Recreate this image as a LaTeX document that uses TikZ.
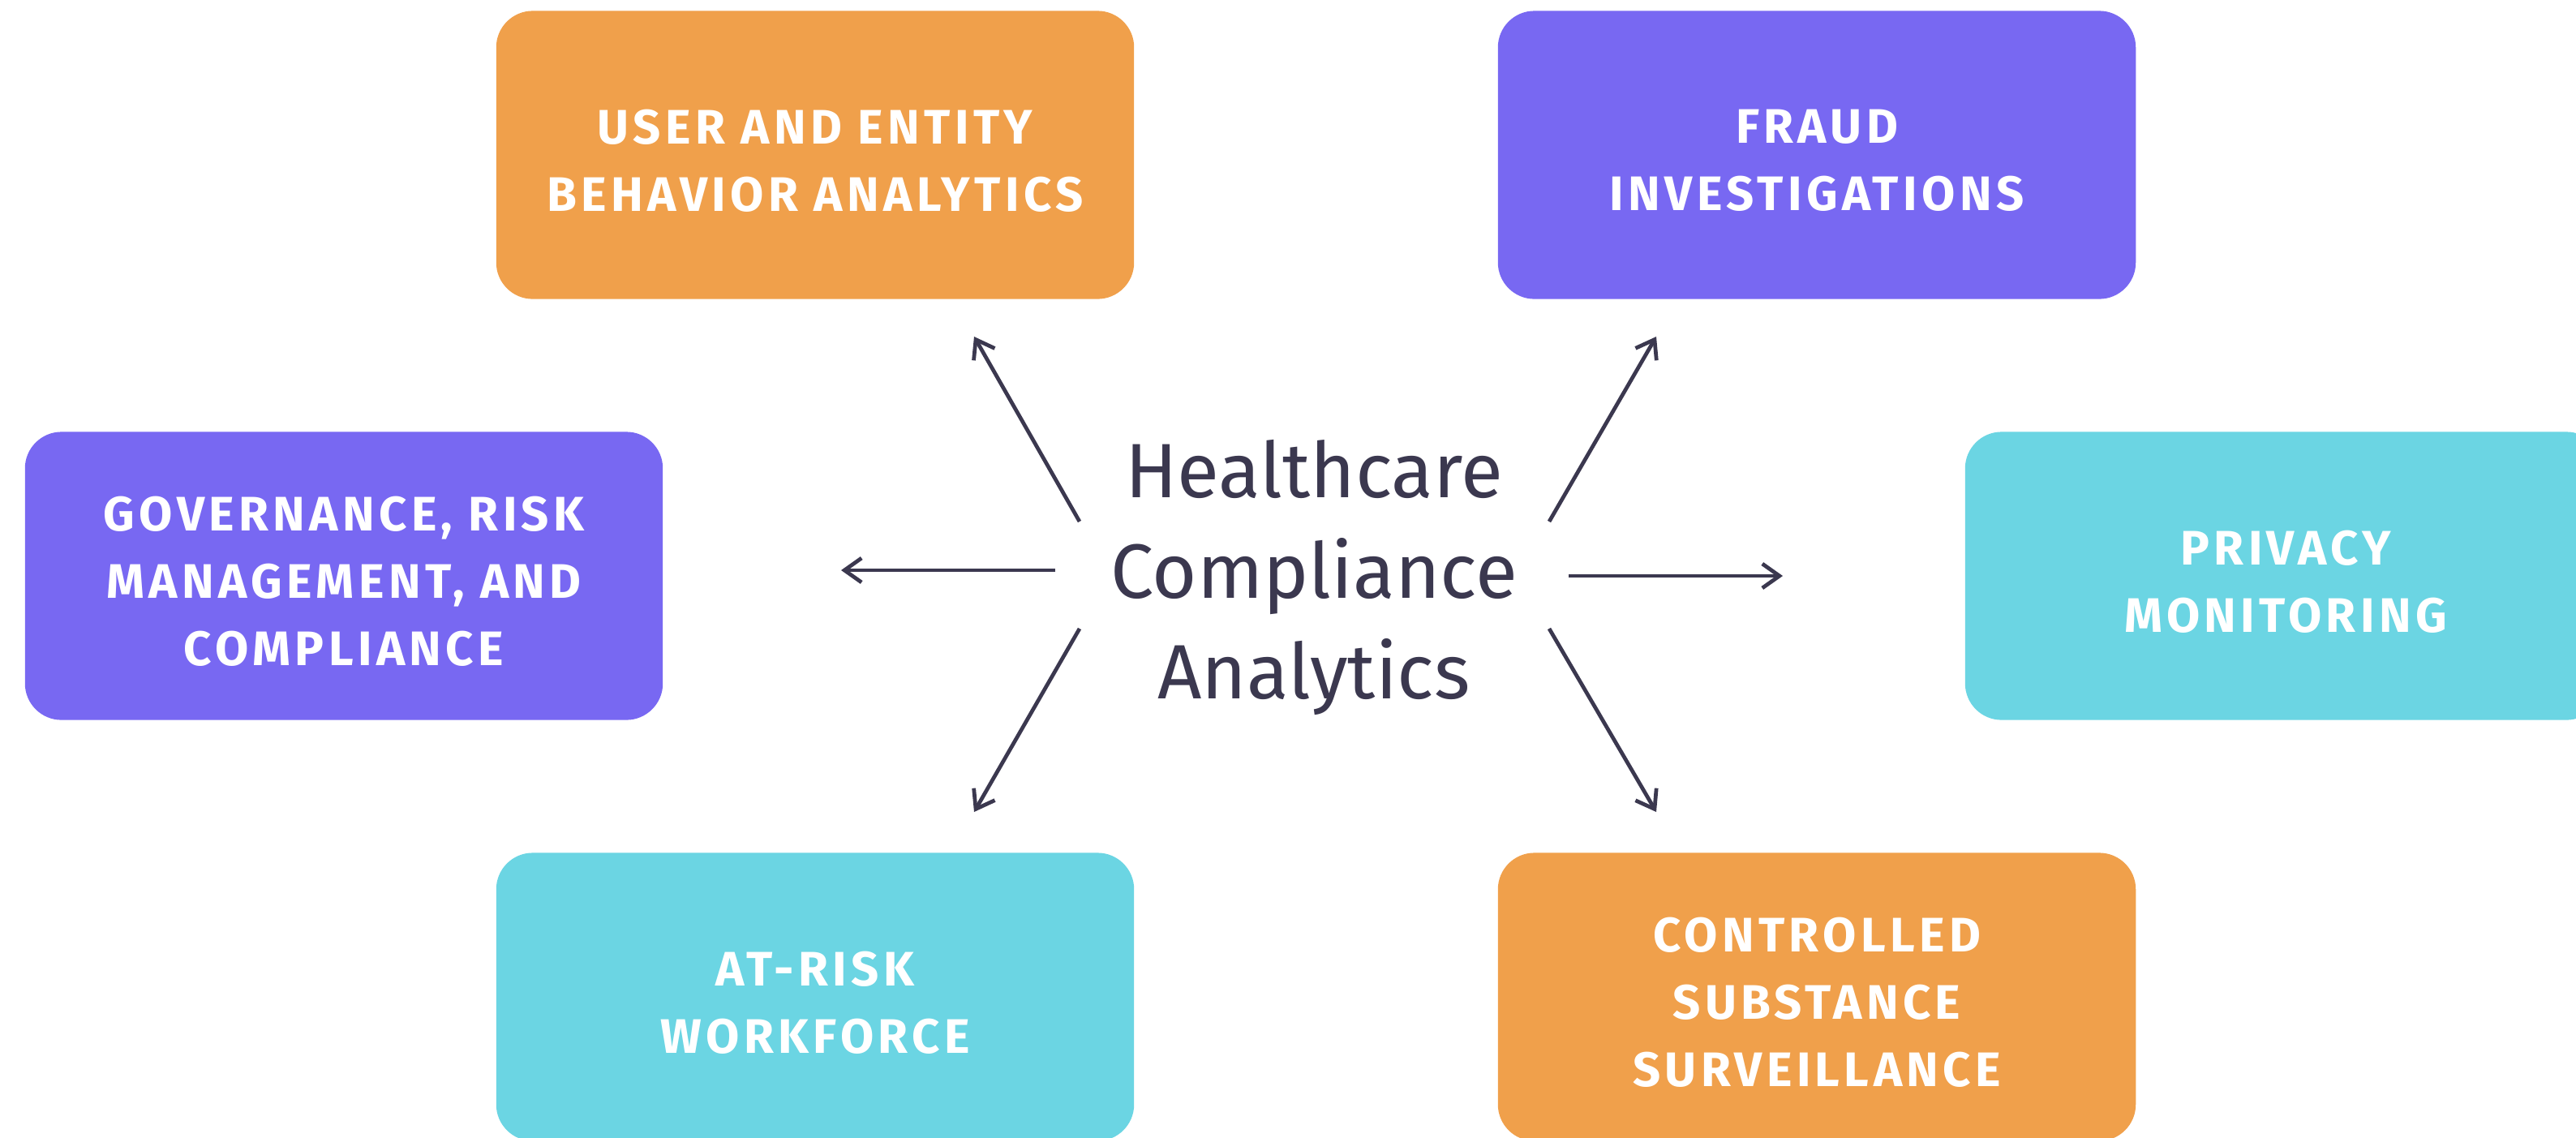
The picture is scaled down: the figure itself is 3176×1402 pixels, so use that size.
\documentclass[tikz,border=0pt]{standalone}
\usepackage{fontspec}
\setmainfont{Fira Sans}
\newfontfamily\boxfont[LetterSpace=9]{Fira Sans}
\usetikzlibrary{arrows.meta}
\definecolor{orangebox}{HTML}{F0A04B}
\definecolor{purplebox}{HTML}{7868F2}
\definecolor{cyanbox}{HTML}{6BD5E3}
\definecolor{ink}{HTML}{3B384F}
\tikzset{
  card/.style={rounded corners=0.45cm, minimum width=7.86cm, minimum height=3.55cm,
    inner sep=0pt},
  cardtext/.style={text=white, align=center, inner sep=0pt,
    font=\boxfont\bfseries\fontsize{17}{23.6}\selectfont},
  spoke/.style={draw=ink, line width=1.35pt,
    -{Straight Barb[length=6pt,width=8.5pt,line width=1.35pt]}},
  hub/.style={align=center, text=ink, inner sep=0pt,
    font=\fontsize{27}{35.3}\selectfont}
}
\begin{document}
\begin{tikzpicture}[x=0.01cm,y=-0.01cm]
\useasboundingbox (0,0) rectangle (3176,1402);
\fill[white] (0,0) rectangle (3176,1402);

\node[card, fill=orangebox] (ueba) at (1005,191) {};
\node[cardtext] (uebat) at (1005,198) {USER AND ENTITY\\BEHAVIOR ANALYTICS};

\node[card, fill=purplebox] (fraud) at (2240,191) {};
\node[cardtext] (fraudt) at (2240,198) {FRAUD\\INVESTIGATIONS};

\node[card, fill=purplebox] (grc) at (424,710) {};
\node[cardtext] (grct) at (424,717) {GOVERNANCE, RISK\\MANAGEMENT, AND\\COMPLIANCE};

\node[card, fill=cyanbox] (priv) at (2816,710) {};
\node[cardtext] (privt) at (2818,717) {PRIVACY\\MONITORING};

\node[card, fill=cyanbox] (risk) at (1005,1229) {};
\node[cardtext] (riskt) at (1005,1236) {AT-RISK\\WORKFORCE};

\node[card, fill=orangebox] (ctrl) at (2240,1229) {};
\node[cardtext] (ctrlt) at (2240,1236) {CONTROLLED\\SUBSTANCE\\SURVEILLANCE};

\node[hub] (hub) at (1620,712) {Healthcare\\Compliance\\Analytics};

\coordinate (s1) at (1331,643); \coordinate (e1) at (1201,415);
\coordinate (s2) at (1301,703); \coordinate (e2) at (1037,703);
\coordinate (s3) at (1331,775); \coordinate (e3) at (1201,1001);
\coordinate (s4) at (1910,643); \coordinate (e4) at (2042,415);
\coordinate (s5) at (1934,710); \coordinate (e5) at (2198,710);
\coordinate (s6) at (1910,775); \coordinate (e6) at (2042,1001);

\draw[spoke] (s1) -- (e1);
\draw[spoke] (s2) -- (e2);
\draw[spoke] (s3) -- (e3);
\draw[spoke] (s4) -- (e4);
\draw[spoke] (s5) -- (e5);
\draw[spoke] (s6) -- (e6);
\end{tikzpicture}
\end{document}
